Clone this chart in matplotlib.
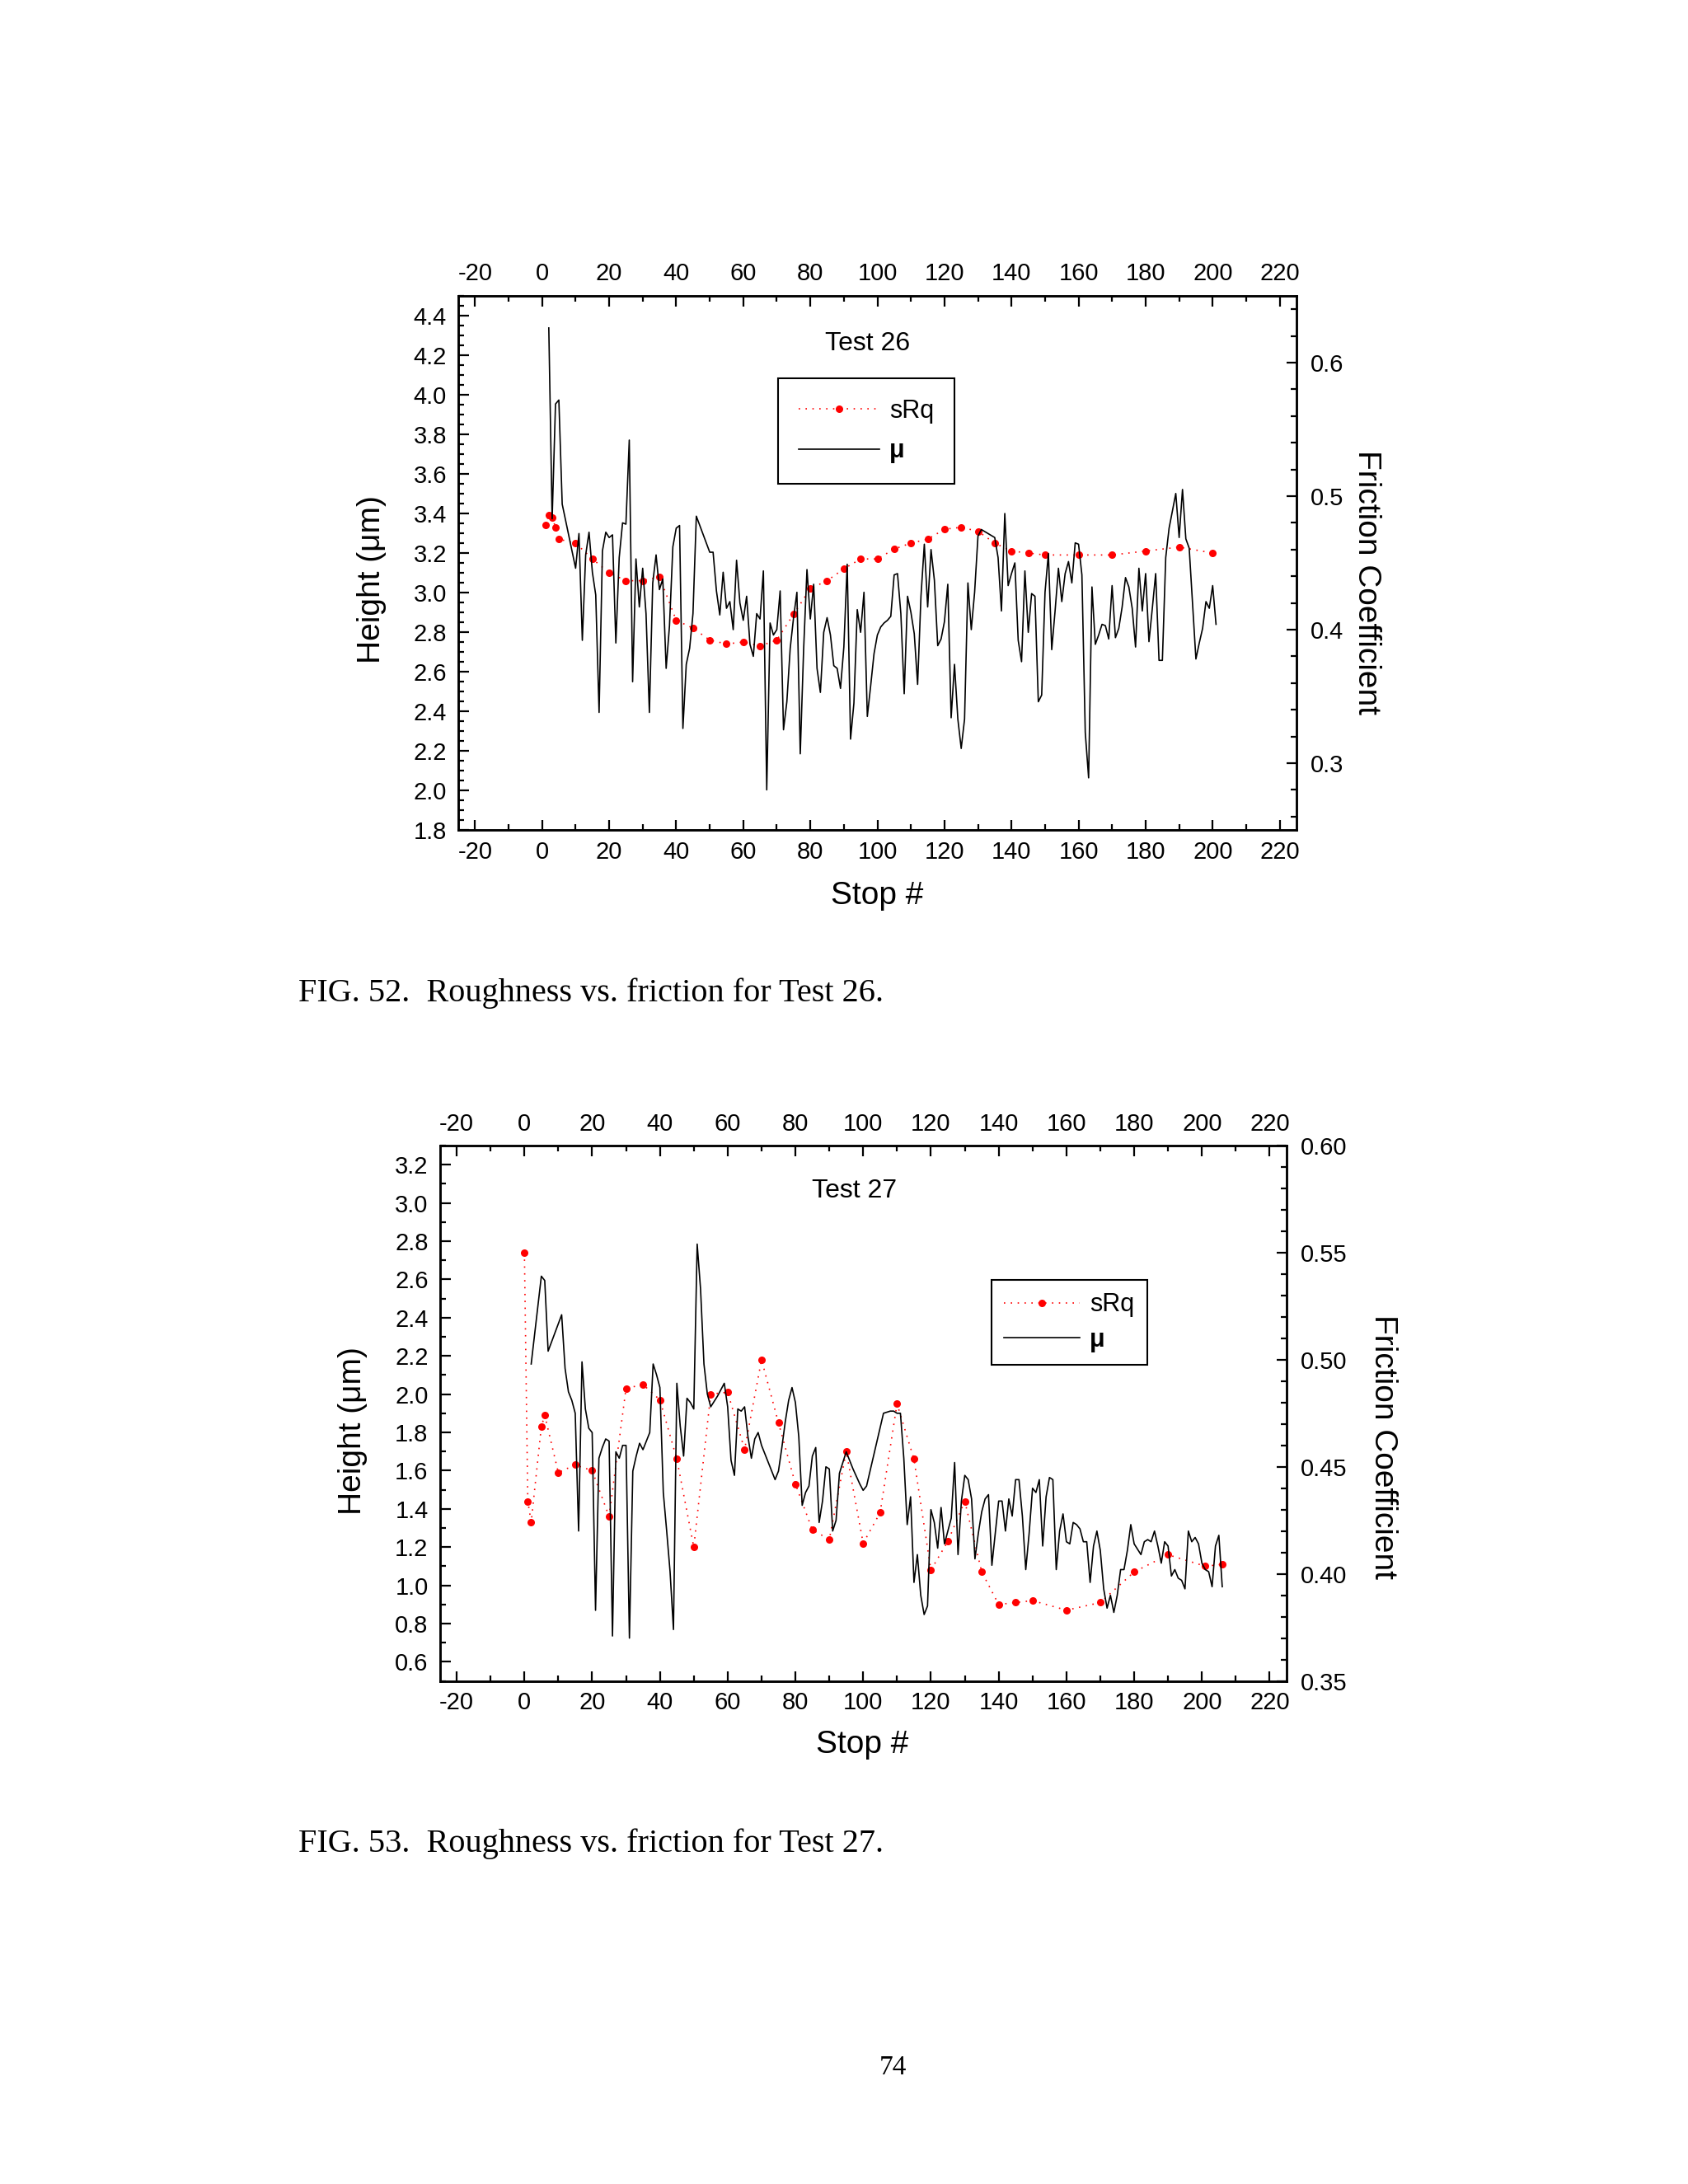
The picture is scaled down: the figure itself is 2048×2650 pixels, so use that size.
import matplotlib
matplotlib.use('Agg')
import matplotlib.pyplot as plt
from matplotlib.ticker import MultipleLocator, FormatStrFormatter

plt.rcParams['font.family'] = ['Liberation Sans', 'DejaVu Sans']
plt.rcParams['axes.unicode_minus'] = False

# ---- Test 26 ----
stops26_srq = [1, 2, 3, 4, 5, 10, 15, 20, 25, 30, 35, 40, 45, 50, 55, 60, 65, 70, 75, 80,
               85, 90, 95, 100, 105, 110, 115, 120, 125, 130, 135, 140, 145, 150,
               160, 170, 180, 190, 200]
srq26 = [3.34, 3.39, 3.38, 3.33, 3.27, 3.25, 3.17, 3.10, 3.06, 3.06, 3.08, 2.86, 2.82, 2.76,
         2.74, 2.75, 2.73, 2.76, 2.89, 3.02, 3.06, 3.12, 3.17, 3.17, 3.22, 3.25, 3.27, 3.32,
         3.33, 3.31, 3.25, 3.21, 3.20, 3.19, 3.19, 3.19, 3.21, 3.23, 3.20]

stops26_mu = [2, 3, 4, 5, 6, 10, 11, 12, 13, 14, 15, 16, 17, 18, 19, 20, 21, 22, 23, 24,
              25, 26, 27, 28, 29, 30, 31, 32, 33, 34, 35, 36, 37, 38, 39, 40, 41, 42, 43, 44,
              45, 46, 50, 51, 52, 53, 54, 55, 56, 57, 58, 59, 60, 61, 62, 63, 64, 65, 66, 67,
              68, 69, 70, 71, 72, 73, 74, 75, 76, 77, 78, 79, 80, 81, 82, 83, 84, 85, 86, 87,
              88, 89, 90, 91, 92, 93, 94, 95, 96, 97, 98, 99, 100, 101, 102, 103, 104, 105,
              106, 107, 108, 109, 110, 111, 112, 113, 114, 115, 116, 117, 118, 119, 120, 121,
              122, 123, 124, 125, 126, 127, 128, 129, 130, 131, 135, 136, 137, 138, 139, 140,
              141, 142, 143, 144, 145, 146, 147, 148, 149, 150, 151, 152, 153, 154, 155, 156,
              157, 158, 159, 160, 161, 162, 163, 164, 165, 166, 167, 168, 169, 170, 171, 172,
              173, 174, 175, 176, 177, 178, 179, 180, 181, 182, 183, 184, 185, 186, 187, 188,
              189, 190, 191, 192, 193, 195, 196, 197, 198, 199, 200, 201]
mu26 = [0.626, 0.483, 0.569, 0.572, 0.494, 0.446, 0.472, 0.392, 0.456, 0.473, 0.443, 0.426,
        0.338, 0.459, 0.473, 0.469, 0.471, 0.390, 0.454, 0.480, 0.479, 0.542, 0.361, 0.453,
        0.417, 0.446, 0.412, 0.338, 0.435, 0.456, 0.430, 0.438, 0.371, 0.403, 0.462, 0.476,
        0.478, 0.326, 0.374, 0.386, 0.412, 0.485, 0.458, 0.458, 0.429, 0.411, 0.443, 0.416,
        0.421, 0.400, 0.452, 0.420, 0.407, 0.425, 0.389, 0.380, 0.412, 0.408, 0.444, 0.280,
        0.405, 0.396, 0.400, 0.429, 0.325, 0.346, 0.386, 0.409, 0.428, 0.307, 0.385, 0.445,
        0.408, 0.434, 0.371, 0.353, 0.398, 0.409, 0.396, 0.373, 0.371, 0.356, 0.387, 0.449,
        0.318, 0.345, 0.415, 0.398, 0.428, 0.335, 0.358, 0.382, 0.396, 0.402, 0.405, 0.407,
        0.410, 0.441, 0.442, 0.412, 0.352, 0.425, 0.413, 0.397, 0.359, 0.425, 0.464, 0.417,
        0.460, 0.437, 0.388, 0.393, 0.406, 0.434, 0.334, 0.374, 0.333, 0.311, 0.333, 0.435,
        0.400, 0.428, 0.470, 0.475, 0.469, 0.454, 0.414, 0.487, 0.433, 0.442, 0.450, 0.392,
        0.376, 0.444, 0.398, 0.427, 0.425, 0.346, 0.351, 0.428, 0.457, 0.385, 0.414, 0.446,
        0.421, 0.442, 0.451, 0.435, 0.465, 0.464, 0.441, 0.323, 0.289, 0.432, 0.389, 0.396,
        0.404, 0.403, 0.393, 0.433, 0.394, 0.401, 0.417, 0.439, 0.432, 0.416, 0.387, 0.446,
        0.414, 0.442, 0.391, 0.416, 0.442, 0.377, 0.377, 0.454, 0.476, 0.489, 0.502, 0.469,
        0.505, 0.468, 0.461, 0.378, 0.390, 0.401, 0.421, 0.416, 0.433, 0.404]

# ---- Test 27 ----
stops27_srq = [0, 1, 2, 5, 6, 10, 15, 20, 25, 30, 35, 40, 45, 50, 55, 60, 65, 70, 75, 80,
               85, 90, 95, 100, 105, 110, 115, 120, 125, 130, 135, 140, 145, 150, 160, 170,
               180, 190, 201, 206]
srq27 = [2.74, 1.44, 1.33, 1.83, 1.89, 1.59, 1.63, 1.60, 1.36, 2.03, 2.05, 1.97, 1.66, 1.20,
         2.00, 2.01, 1.71, 2.18, 1.85, 1.53, 1.29, 1.24, 1.70, 1.22, 1.38, 1.95, 1.66, 1.08,
         1.23, 1.44, 1.07, 0.90, 0.91, 0.92, 0.87, 0.91, 1.07, 1.16, 1.10, 1.11]

stops27_mu = [2, 5, 6, 7, 11, 12, 13, 14, 15, 16, 17, 18, 19, 20, 21, 22, 23, 24, 25, 26,
              27, 28, 29, 30, 31, 32, 33, 34, 35, 36, 37, 38, 39, 40, 41, 42, 43, 44, 45, 46,
              47, 48, 49, 50, 51, 52, 53, 54, 55, 57, 59, 60, 61, 62, 63, 64, 65, 66, 67, 68,
              69, 70, 71, 72, 73, 74, 75, 76, 77, 78, 79, 80, 81, 82, 83, 84, 85, 86, 87, 88,
              89, 90, 91, 92, 93, 95, 97, 99, 100, 101, 106, 108, 109, 110, 111, 112, 113,
              114, 115, 116, 117, 118, 119, 120, 121, 122, 123, 124, 125, 126, 127, 128, 129,
              130, 131, 132, 133, 134, 135, 136, 137, 138, 139, 140, 141, 142, 143, 144, 145,
              146, 147, 148, 149, 150, 151, 152, 153, 154, 155, 156, 157, 158, 159, 160, 161,
              162, 163, 164, 165, 166, 167, 168, 169, 170, 171, 172, 173, 174, 175, 176, 177,
              178, 179, 180, 182, 183, 184, 185, 186, 187, 188, 189, 190, 191, 192, 193, 194,
              195, 196, 197, 198, 199, 200, 201, 202, 203, 204, 205, 206]
mu27 = [0.498, 0.539, 0.537, 0.504, 0.521, 0.496, 0.485, 0.481, 0.475, 0.420, 0.499, 0.477,
        0.468, 0.466, 0.383, 0.454, 0.459, 0.463, 0.462, 0.371, 0.457, 0.454, 0.460, 0.460,
        0.370, 0.448, 0.455, 0.461, 0.458, 0.462, 0.466, 0.498, 0.493, 0.487, 0.438, 0.420,
        0.401, 0.374, 0.489, 0.469, 0.455, 0.482, 0.480, 0.477, 0.554, 0.533, 0.498, 0.484,
        0.478, 0.483, 0.489, 0.478, 0.453, 0.446, 0.477, 0.476, 0.478, 0.464, 0.454, 0.463,
        0.466, 0.460, 0.456, 0.452, 0.448, 0.444, 0.448, 0.459, 0.471, 0.481, 0.487, 0.480,
        0.464, 0.432, 0.438, 0.441, 0.455, 0.459, 0.424, 0.434, 0.450, 0.449, 0.420, 0.425,
        0.447, 0.457, 0.449, 0.442, 0.439, 0.441, 0.475, 0.476, 0.476, 0.475, 0.475, 0.454,
        0.423, 0.436, 0.396, 0.409, 0.390, 0.381, 0.385, 0.430, 0.424, 0.412, 0.431, 0.414,
        0.420, 0.426, 0.452, 0.409, 0.434, 0.446, 0.444, 0.435, 0.407, 0.419, 0.429, 0.435,
        0.437, 0.404, 0.419, 0.434, 0.434, 0.420, 0.435, 0.427, 0.444, 0.444, 0.427, 0.402,
        0.419, 0.440, 0.438, 0.444, 0.413, 0.436, 0.445, 0.444, 0.402, 0.420, 0.428, 0.415,
        0.414, 0.424, 0.423, 0.421, 0.415, 0.415, 0.396, 0.413, 0.420, 0.411, 0.393, 0.384,
        0.390, 0.382, 0.390, 0.402, 0.402, 0.411, 0.423, 0.414, 0.409, 0.415, 0.416, 0.415,
        0.420, 0.413, 0.405, 0.415, 0.413, 0.399, 0.402, 0.398, 0.397, 0.393, 0.420, 0.415,
        0.417, 0.414, 0.405, 0.402, 0.401, 0.394, 0.413, 0.418, 0.394]

TICK_FS = 21
LABEL_FS = 28


def make_panel(rect, srq_x, srq_y, mu_x, mu_y, ylim, ylim2, ymaj, ymin, y2maj, y2min,
               y2fmt, title, title_xy, leg_xy, leg_kw, ylab_xy, y2lab_xy, xlab_xy):
    ax = fig.add_axes(rect)
    ax2 = ax.twinx()
    l1, = ax.plot(srq_x, srq_y, color='red', linestyle=(0, (1, 4)), linewidth=1.2,
                  marker='o', markersize=6.5, markeredgewidth=0, label='sRq')
    l2, = ax2.plot(mu_x, mu_y, color='black', linewidth=1.2, label='\u03bc')

    ax.set_xlim(-25, 225)
    ax.set_ylim(*ylim)
    ax2.set_ylim(*ylim2)
    ax.xaxis.set_major_locator(MultipleLocator(20))
    ax.xaxis.set_minor_locator(MultipleLocator(10))
    ax.yaxis.set_major_locator(MultipleLocator(ymaj))
    ax.yaxis.set_minor_locator(MultipleLocator(ymin))
    ax.yaxis.set_major_formatter(FormatStrFormatter('%.1f'))
    ax2.yaxis.set_major_locator(MultipleLocator(y2maj))
    ax2.yaxis.set_minor_locator(MultipleLocator(y2min))
    ax2.yaxis.set_major_formatter(FormatStrFormatter(y2fmt))

    ax.tick_params(axis='x', which='both', direction='in', top=True, labeltop=True,
                   bottom=True, labelbottom=True, labelsize=TICK_FS, pad=9)
    ax.tick_params(axis='y', which='both', direction='in', labelsize=TICK_FS, pad=10)
    ax2.tick_params(axis='y', which='both', direction='in', labelsize=TICK_FS, pad=12)
    for a in (ax, ax2):
        a.tick_params(which='major', length=9, width=1.6)
        a.tick_params(which='minor', length=5, width=1.6)
        for s in a.spines.values():
            s.set_linewidth(1.8)

    ax.text(title_xy[0], title_xy[1], title, transform=ax.transAxes, fontsize=23,
            ha='center', va='center')
    ax.text(ylab_xy[0], ylab_xy[1], 'Height (\u03bcm)', transform=ax.transAxes,
            fontsize=LABEL_FS, rotation=90, ha='center', va='center')
    ax.text(y2lab_xy[0], y2lab_xy[1], 'Friction Coefficient', transform=ax.transAxes,
            fontsize=LABEL_FS, rotation=-90, ha='center', va='center')
    ax.text(xlab_xy[0], xlab_xy[1], 'Stop #', transform=ax.transAxes,
            fontsize=LABEL_FS, ha='center', va='center')

    leg = ax2.legend([l1, l2], ['sRq', '\u03bc'], loc='upper left', bbox_to_anchor=leg_xy,
                     borderaxespad=0, fontsize=22, frameon=True, fancybox=False,
                     edgecolor='black', framealpha=1, **leg_kw)
    leg.get_frame().set_linewidth(1.5)
    leg.get_texts()[1].set_fontweight('bold')
    return ax


fig = plt.figure(figsize=(20.48, 26.5), dpi=100)

make_panel([556 / 2048, 1 - 1007 / 2650, 1017 / 2048, 648 / 2650],
           stops26_srq, srq26, stops26_mu, mu26,
           (1.8, 4.5), (0.25, 0.65), 0.2, 0.05, 0.1, 0.02, '%.1f',
           'Test 26', (0.488, 0.91), (0.382, 0.845),
           dict(handlelength=3.2, borderpad=0.8, labelspacing=0.6, handletextpad=0.4),
           (-0.103, 0.469), (1.0836, 0.463), (0.5, -0.1227))

make_panel([533.5 / 2048, 1 - 2039.6 / 2650, 1027.5 / 2048, 649.6 / 2650],
           stops27_srq, srq27, stops27_mu, mu27,
           (0.5, 3.3), (0.35, 0.60), 0.2, 0.1, 0.05, 0.01, '%.2f',
           'Test 27', (0.49, 0.915), (0.6516, 0.749),
           dict(handlelength=3.0, borderpad=0.5, labelspacing=0.4, handletextpad=0.4),
           (-0.103, 0.467), (1.114, 0.437), (0.499, -0.119))

fig.text(361.6 / 2048, 1 - 1205 / 2650, 'FIG. 52.  Roughness vs. friction for Test 26.',
         family='Liberation Serif', fontsize=29, ha='left', va='center')
fig.text(361.6 / 2048, 1 - 2237.6 / 2650, 'FIG. 53.  Roughness vs. friction for Test 27.',
         family='Liberation Serif', fontsize=29, ha='left', va='center')
fig.text(1083 / 2048, 1 - 2509 / 2650, '74', family='Liberation Serif', fontsize=24,
         ha='center', va='center')

fig.savefig('out.png', dpi=100, facecolor='white')
